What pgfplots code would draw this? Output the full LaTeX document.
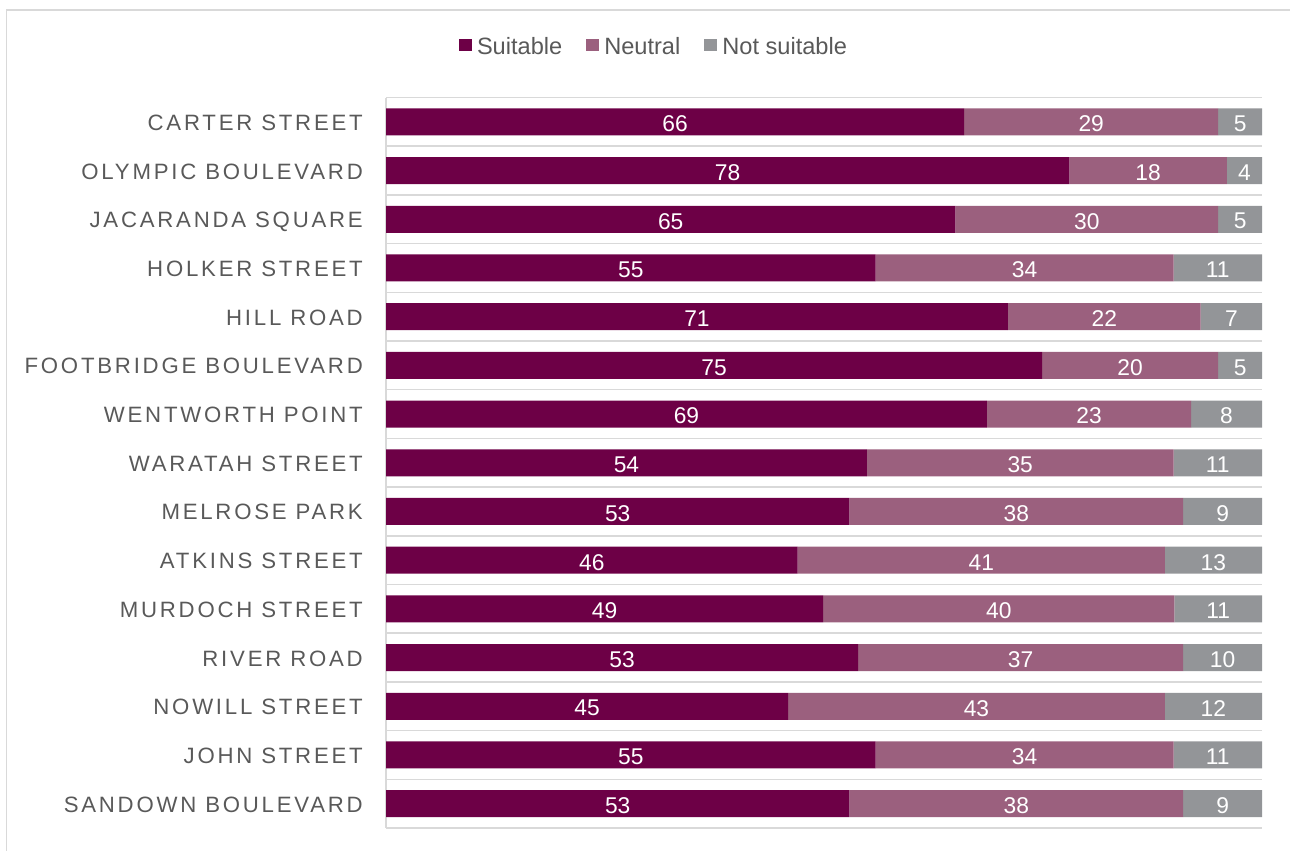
\documentclass[border=0pt]{standalone}
\usepackage{fontspec}
\setmainfont{Liberation Sans}
\newfontfamily\spacedfont[LetterSpace=12.5]{Liberation Sans}
\usepackage{pgfplots}
\usepackage{pgfplotstable}
\pgfplotsset{compat=1.18}
\definecolor{cS}{HTML}{6D0046}
\definecolor{cN}{HTML}{9B607E}
\definecolor{cNS}{HTML}{939598}
\definecolor{txt}{HTML}{595959}
\definecolor{grd}{HTML}{D9D9D9}

\pgfplotstableread{
y s n ns ls ln lns
0 66.0 29.0 5.0 66 29 5
1 78.0 18.0 4.0 78 18 4
2 65.0 30.0 5.0 65 30 5
3 55.9 34.0 10.1 55 34 11
4 71.0 22.0 7.0 71 22 7
5 74.9 20.1 5.0 75 20 5
6 68.6 23.3 8.1 69 23 8
7 54.9 35.0 10.1 54 35 11
8 52.9 38.1 9.0 53 38 9
9 47.0 41.9 11.1 46 41 13
10 49.9 40.1 10.0 49 40 11
11 53.9 37.1 9.0 53 37 10
12 45.9 43.0 11.1 45 43 12
13 55.9 34.0 10.1 55 34 11
14 52.9 38.1 9.0 53 38 9
}\data

\begin{document}
\begin{tikzpicture}
\useasboundingbox (0pt,0pt) rectangle (1290pt,-851pt);
\draw[grd, line width=1.5pt] (1292pt,-10pt) -- (6.5pt,-10pt) -- (6.5pt,-853pt);
\begin{axis}[
  at={(386pt,-828pt)}, anchor=south west,
  scale only axis, width=876pt, height=730.5pt,
  xbar stacked, bar width=27pt,
  xmin=0, xmax=100, ymin=-0.5, ymax=14.5, y dir=reverse,
  axis lines*=left, axis line style={grd, line width=1.5pt},
  xtick=\empty, ytick={0,...,14},
  yticklabels={CARTER STREET, OLYMPIC BOULEVARD, JACARANDA SQUARE, HOLKER STREET, HILL ROAD, FOOTBRIDGE BOULEVARD, WENTWORTH POINT, WARATAH STREET, MELROSE PARK, ATKINS STREET, MURDOCH STREET, RIVER ROAD, NOWILL STREET, JOHN STREET, SANDOWN BOULEVARD},
  major tick length=0pt, minor tick length=0pt,
  minor ytick={-0.5,0.5,...,14.5}, yminorgrids,
  minor grid style={grd, line width=1.5pt},
  yticklabel style={font=\spacedfont\fontsize{22.2}{26}\selectfont, text=txt, inner sep=0pt, xshift=-23pt, text height=15.9pt, text depth=0pt, yshift=-0.5pt},
  legend columns=3,
  legend image code/.code={\fill[#1] (0pt,-4pt) rectangle (13pt,8pt);},
  legend style={at={(0.3048,1.0691)}, anchor=center, draw=none, fill=none,
    inner sep=0pt, outer sep=0pt, column sep=5pt,
    /tikz/every even column/.append style={column sep=24pt},
    nodes={inner sep=0pt, text=txt, font=\fontsize{23.6}{24}\selectfont}},
]
\addplot[fill=cS, draw=none] table[x=s, y=y] {\data};
\addplot[fill=cN, draw=none] table[x=n, y=y] {\data};
\addplot[fill=cNS, draw=none] table[x=ns, y=y] {\data};
\legend{Suitable, Neutral, Not suitable}
\end{axis}
\begin{axis}[
  at={(386pt,-828pt)}, anchor=south west,
  scale only axis, width=876pt, height=730.5pt,
  xmin=0, xmax=100, ymin=-0.5, ymax=14.5, y dir=reverse,
  hide axis, clip=false,
  point meta=explicit symbolic,
  every node near coord/.append style={anchor=center, text=white, inner sep=0pt, yshift=-2pt, font=\fontsize{22.8}{23}\selectfont},
]
\addplot[draw=none, mark=none, nodes near coords] table[x expr=\thisrow{s}/2, y=y, meta=ls] {\data};
\addplot[draw=none, mark=none, nodes near coords] table[x expr=\thisrow{s}+\thisrow{n}/2, y=y, meta=ln] {\data};
\addplot[draw=none, mark=none, nodes near coords] table[x expr=\thisrow{s}+\thisrow{n}+\thisrow{ns}/2, y=y, meta=lns] {\data};
\end{axis}
\end{tikzpicture}
\end{document}
